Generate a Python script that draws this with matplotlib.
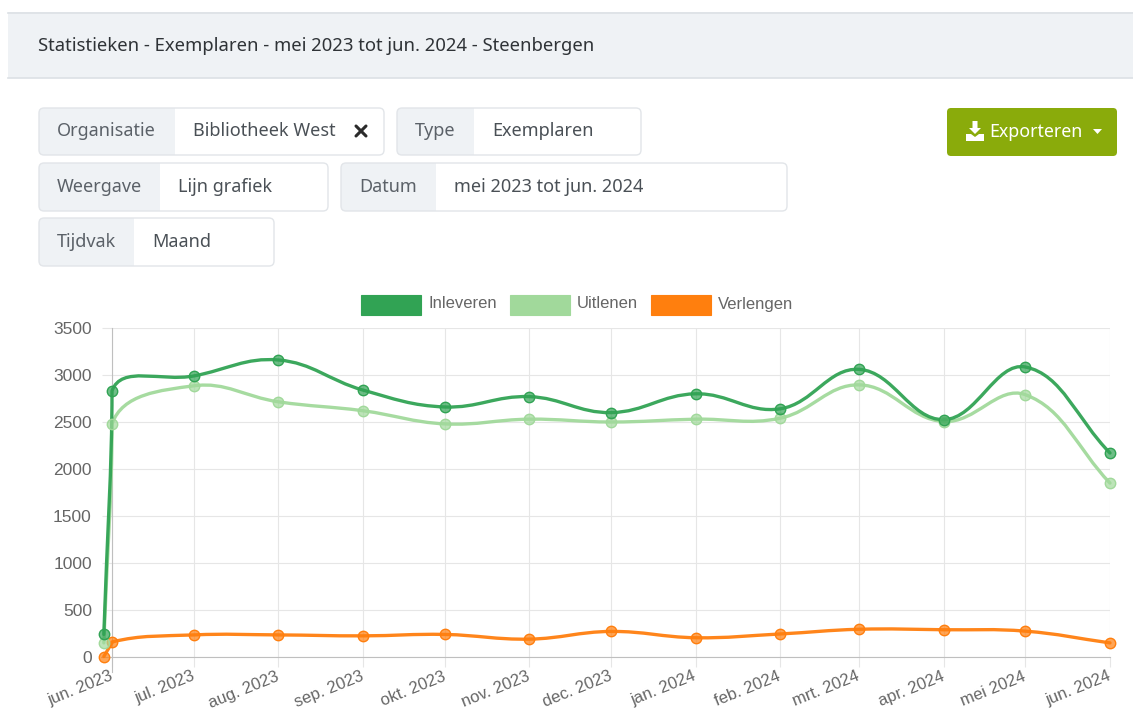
import numpy as np
import matplotlib
matplotlib.use("Agg")
import matplotlib.pyplot as plt
import matplotlib.dates as mdates
from matplotlib.patches import FancyBboxPatch, Rectangle, PathPatch, Polygon
from matplotlib.path import Path
from matplotlib.colors import to_rgba
from datetime import date

W, H = 1133, 727

# ---- data ----
dates = [date(2023, 5, 29), date(2023, 6, 1), date(2023, 7, 1), date(2023, 8, 1),
         date(2023, 9, 1), date(2023, 10, 1), date(2023, 11, 1), date(2023, 12, 1),
         date(2024, 1, 1), date(2024, 2, 1), date(2024, 3, 1), date(2024, 4, 1),
         date(2024, 5, 1), date(2024, 6, 1)]
inleveren = [240, 2830, 2990, 3160, 2840, 2660, 2770, 2600, 2800, 2640, 3060, 2525, 3085, 2170]
uitlenen = [150, 2480, 2885, 2715, 2620, 2480, 2530, 2500, 2530, 2540, 2895, 2505, 2790, 1850]
verlengen = [5, 160, 235, 235, 225, 240, 190, 272, 205, 245, 295, 290, 275, 150]

series_names = ["Inleveren", "Uitlenen", "Verlengen"]
series_colors = ["#31a354", "#a1d99b", "#ff7f0e"]

tick_dates = dates[1:]
tick_labels = ["jun. 2023", "jul. 2023", "aug. 2023", "sep. 2023", "okt. 2023",
               "nov. 2023", "dec. 2023", "jan. 2024", "feb. 2024", "mrt. 2024",
               "apr. 2024", "mei 2024", "jun. 2024"]
y_ticks = [0, 500, 1000, 1500, 2000, 2500, 3000, 3500]

title = "Statistieken - Exemplaren - mei 2023 tot jun. 2024 - Steenbergen"
filters = [
    # x0, y0, x1, y1, split, label, value
    (39, 108, 384, 155, 175, "Organisatie", "Bibliotheek West"),
    (397, 108, 641, 155, 474, "Type", "Exemplaren"),
    (39, 163, 328, 211, 160, "Weergave", "Lijn grafiek"),
    (341, 163, 787, 211, 436, "Datum", "mei 2023 tot jun. 2024"),
    (39, 218, 274, 266, 134, "Tijdvak", "Maand"),
]

UI_FONT = ["Noto Sans", "DejaVu Sans"]
CHART_FONT = ["Liberation Sans", "DejaVu Sans"]


def chartjs_curve(ax, xs, ys, tension=0.4):
    """Cubic bezier path the way Chart.js v2 draws a line with lineTension."""
    pts = ax.transData.transform(np.column_stack([xs, ys]))
    bb = ax.bbox
    n = len(pts)
    cp_prev = np.zeros_like(pts)
    cp_next = np.zeros_like(pts)
    for i in range(n):
        prev, cur, nxt = pts[max(i - 1, 0)], pts[i], pts[min(i + 1, n - 1)]
        d01 = np.hypot(*(cur - prev))
        d12 = np.hypot(*(nxt - cur))
        tot = d01 + d12
        s01 = d01 / tot if tot else 0.0
        s12 = d12 / tot if tot else 0.0
        cp_prev[i] = cur - tension * s01 * (nxt - prev)
        cp_next[i] = cur + tension * s12 * (nxt - prev)
        eps = 1e-3
        # only points inside the chart area get their control points capped
        if bb.x0 - eps <= cur[0] <= bb.x1 + eps and bb.y0 - eps <= cur[1] <= bb.y1 + eps:
            for cp in (cp_prev[i], cp_next[i]):
                cp[0] = min(max(cp[0], bb.x0), bb.x1)
                cp[1] = min(max(cp[1], bb.y0), bb.y1)
    verts = [pts[0]]
    codes = [Path.MOVETO]
    for i in range(n - 1):
        verts += [cp_next[i], cp_prev[i + 1], pts[i + 1]]
        codes += [Path.CURVE4] * 3
    verts = ax.transData.inverted().transform(np.array(verts))
    return Path(verts, codes)


fig = plt.figure(figsize=(W / 100, H / 100), dpi=100)
fig.patch.set_facecolor("white")

# pixel-space canvas for the page chrome
ui = fig.add_axes([0, 0, 1, 1])
ui.set_xlim(0, W)
ui.set_ylim(H, 0)
ui.axis("off")

# header bar
ui.add_patch(Rectangle((8, 12), W, 66, fc="#eff2f5", ec="none"))
ui.plot([8, W], [12.5, 12.5], color="#dce0e5", lw=1.2)
ui.plot([8, W], [77.5, 77.5], color="#dce0e5", lw=1.2)
ui.text(38, 46, title, family=UI_FONT, fontsize=13.3, color="#2f3337", va="center")

# filter input groups
for x0, y0, x1, y1, split, lab, val in filters:
    w, h = x1 - x0, y1 - y0
    ui.add_patch(FancyBboxPatch((x0, y0), w, h, boxstyle="round,pad=0,rounding_size=5",
                                fc="white", ec="none"))
    ui.add_patch(FancyBboxPatch((x0, y0), split - x0, h, boxstyle="round,pad=0,rounding_size=5",
                                fc="#eff2f5", ec="none"))
    ui.add_patch(Rectangle((split - 6, y0), 6, h, fc="#eff2f5", ec="none"))
    ui.add_patch(FancyBboxPatch((x0, y0), w, h, boxstyle="round,pad=0,rounding_size=5",
                                fc="none", ec="#e2e5e9", lw=1))
    cy = (y0 + y1) / 2
    ui.text(x0 + 18, cy, lab, family=UI_FONT, fontsize=13, color="#5b6168", va="center")
    ui.text(split + 18, cy, val, family=UI_FONT, fontsize=13, color="#4a5056", va="center")
# clear (x) icon in the organisation box
ui.plot([356, 366], [126, 136], color="#2b2b2b", lw=2.2, solid_capstyle="round")
ui.plot([356, 366], [136, 126], color="#2b2b2b", lw=2.2, solid_capstyle="round")

# export button
ui.add_patch(FancyBboxPatch((947, 108), 170, 48, boxstyle="round,pad=0,rounding_size=4",
                            fc="#8aab0b", ec="none"))
ui.add_patch(Polygon([(972.5, 121), (977.5, 121), (977.5, 128), (981, 128), (975, 134),
                      (969, 128), (972.5, 128)], closed=True, fc="white", ec="none"))
ui.add_patch(Polygon([(966, 134), (971, 134), (975, 137), (979, 134), (984, 134),
                      (984, 141), (966, 141)], closed=True, fc="white", ec="none"))
ui.text(989, 132, "Exporteren", family=UI_FONT, fontsize=12.8, color="white", va="center")
ui.add_patch(Polygon([(1093, 129), (1102, 129), (1097.5, 134)], closed=True, fc="white", ec="none"))

# legend
legend_x = [361, 510, 651]
for lx, name, col in zip(legend_x, series_names, series_colors):
    ui.add_patch(Rectangle((lx, 295), 60, 20, fc=col, ec=col, lw=0.8))
    ui.text(lx + 67, 304, name, family=CHART_FONT, fontsize=12, color="#666666", va="center")

# ---- the chart ----
left, right, top, bottom = 112, 1110, 328, 657
ax = fig.add_axes([left / W, (H - bottom) / H, (right - left) / W, (bottom - top) / H])
ax.set_facecolor("none")
x_num = mdates.date2num(dates)
ax.set_xlim(mdates.date2num(tick_dates[0]), mdates.date2num(tick_dates[-1]))
ax.set_ylim(0, 3500)
for s in ax.spines.values():
    s.set_visible(False)

grid_col = "#e6e6e6"
ax.set_yticks(y_ticks)
ax.set_yticklabels([str(v) for v in y_ticks], family=CHART_FONT)
ax.set_xticks(mdates.date2num(tick_dates))
ax.set_xticklabels(tick_labels, family=CHART_FONT, rotation=22, ha="right",
                   rotation_mode="anchor", va="center")
ax.tick_params(axis="both", length=7.5, width=0.8, color=grid_col, labelcolor="#666666",
               labelsize=12)
ax.tick_params(axis="y", pad=7, labelsize=12.5)
ax.tick_params(axis="x", pad=6)
ax.grid(True, color=grid_col, lw=0.8)
ax.set_axisbelow(True)
ax.axhline(0, xmin=-0.011, color="#bfbfbf", lw=0.8, clip_on=False, zorder=1)
ax.axvline(x_num[1], ymin=-0.045, color="#bfbfbf", lw=0.8, clip_on=False, zorder=1)

for vals, col in zip([verlengen, uitlenen, inleveren], series_colors[::-1]):
    path = chartjs_curve(ax, x_num, vals)
    ax.add_patch(PathPatch(path, fc="none", ec=to_rgba(col, 0.95), lw=2.4, clip_on=False,
                           zorder=3, capstyle="round", joinstyle="round"))
    ax.plot(x_num, vals, "o", ms=7.5, mfc=to_rgba(col, 0.7), mec=col, mew=1,
            clip_on=False, zorder=4)

fig.savefig("out.png", dpi=100)
